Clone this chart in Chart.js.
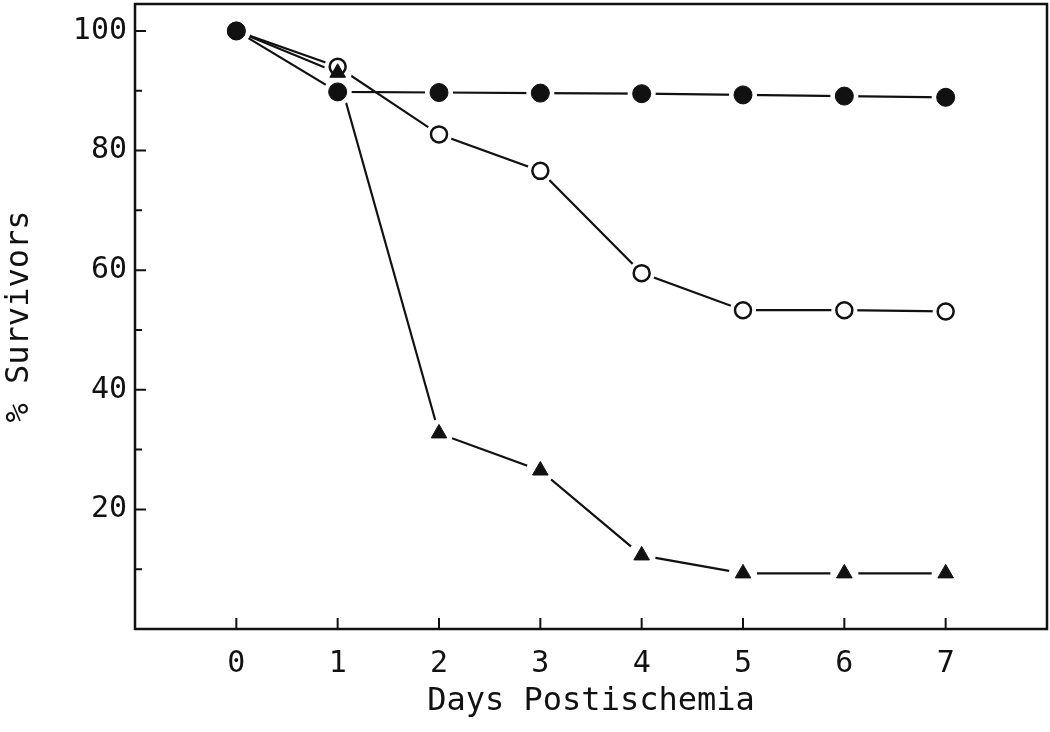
<!DOCTYPE html>
<html>
<head>
<meta charset="utf-8">
<script src="https://cdn.jsdelivr.net/npm/chart.js@4.4.1/dist/chart.umd.min.js"></script>
<style>
	html, body { margin: 0; padding: 0; background: #fff; }
	#wrap { width: 1050px; height: 732px; }
</style>
</head>
<body>
<div id="wrap"><canvas id="chartSurvival" width="1050" height="732"></canvas></div>
<script>
'use strict'

// values
const days = [0, 1, 2, 3, 4, 5, 6, 7];
const filledCircle = [100, 89.8, 89.7, 89.6, 89.5, 89.3, 89.1, 88.9];
const openCircle = [100, 94.0, 82.7, 76.6, 59.5, 53.3, 53.3, 53.1];
const filledTriangle = [100, 93.0, 32.7, 26.5, 12.3, 9.3, 9.3, 9.3];

const xTicks = [0, 1, 2, 3, 4, 5, 6, 7];
const yTicks = [20, 40, 60, 80, 100];
const yMinorTicks = [10, 30, 50, 70, 90];

const ink = '#111';
const fontFamily = '"DejaVu Sans Mono", monospace';

const toPoints = (vals) => days.map((d, i) => ({ x: d, y: vals[i] }));

// no extra room for label overhang, the box is fixed
const noOverhang = (scale) => {
	scale.paddingTop = 0;
	scale.paddingBottom = 0;
	scale.paddingLeft = 0;
	scale.paddingRight = 0;
};

// inward ticks, frame, and white gaps round the markers
const plotDecor = {
	id: 'plotDecor',
	afterDatasetsDraw(chart) {
		const { ctx, chartArea: { top, bottom, left, right } } = chart;
		const xs = chart.scales.x;
		const ys = chart.scales.y;
		ctx.save();

		// halo first, then redraw markers on top
		const drawOrder = [1, 2, 0];
		drawOrder.forEach((di) => {
			chart.getDatasetMeta(di).data.forEach((pt) => {
				ctx.beginPath();
				ctx.fillStyle = '#fff';
				ctx.arc(pt.x, pt.y, pt.options.radius + 5, 0, Math.PI * 2);
				ctx.fill();
			});
		});
		drawOrder.forEach((di) => {
			chart.getDatasetMeta(di).data.forEach((pt) => pt.draw(ctx, chart.chartArea));
		});

		ctx.strokeStyle = ink;
		ctx.lineWidth = 2;
		ctx.beginPath();
		xTicks.forEach((v) => {
			const px = xs.getPixelForValue(v);
			ctx.moveTo(px, bottom);
			ctx.lineTo(px, bottom - 11);
		});
		yTicks.forEach((v) => {
			const py = ys.getPixelForValue(v);
			ctx.moveTo(left, py);
			ctx.lineTo(left + 11, py);
		});
		yMinorTicks.forEach((v) => {
			const py = ys.getPixelForValue(v);
			ctx.moveTo(left, py);
			ctx.lineTo(left + 7, py);
		});
		ctx.stroke();

		ctx.lineWidth = 2.5;
		ctx.strokeRect(left, top, right - left, bottom - top);
		ctx.restore();
	},
};

new Chart(document.getElementById('chartSurvival'), {
	type: 'line',
	data: {
		datasets: [
			{
				label: 'filled circle',
				data: toPoints(filledCircle),
				borderColor: ink,
				borderWidth: 2.2,
				pointStyle: 'circle',
				pointRadius: 9,
				pointBackgroundColor: ink,
				pointBorderColor: ink,
				pointBorderWidth: 1,
			},
			{
				label: 'open circle',
				data: toPoints(openCircle),
				borderColor: ink,
				borderWidth: 2.2,
				pointStyle: 'circle',
				pointRadius: 8,
				pointBackgroundColor: '#fff',
				pointBorderColor: ink,
				pointBorderWidth: 2.5,
			},
			{
				label: 'filled triangle',
				data: toPoints(filledTriangle),
				borderColor: ink,
				borderWidth: 2.2,
				pointStyle: 'triangle',
				pointRadius: 9,
				pointBackgroundColor: ink,
				pointBorderColor: ink,
				pointBorderWidth: 1,
			},
		],
	},
	options: {
		responsive: false,
		animation: false,
		layout: {
			autoPadding: false,
			padding: { left: 0, right: 3, top: 4, bottom: 0 },
		},
		plugins: {
			legend: { display: false },
			tooltip: { enabled: false },
		},
		scales: {
			x: {
				type: 'linear',
				min: -1,
				max: 8,
				afterBuildTicks: (scale) => { scale.ticks = xTicks.map((v) => ({ value: v })); },
				afterFit: (scale) => { scale.height = 103; noOverhang(scale); },
				grid: { display: false, drawTicks: false },
				border: { display: false },
				ticks: {
					color: ink,
					padding: 17,
					maxRotation: 0,
					font: { family: fontFamily, size: 30 },
				},
				title: {
					display: true,
					text: 'Days Postischemia',
					color: ink,
					padding: { top: 0, bottom: 11 },
					font: { family: fontFamily, size: 32 },
				},
			},
			y: {
				type: 'linear',
				min: 0,
				max: 104.5,
				afterBuildTicks: (scale) => { scale.ticks = yTicks.map((v) => ({ value: v })); },
				afterFit: (scale) => { scale.width = 135; noOverhang(scale); },
				grid: { display: false, drawTicks: false },
				border: { display: false },
				ticks: {
					color: ink,
					padding: 8,
					font: { family: fontFamily, size: 30 },
				},
				title: {
					display: true,
					text: '% Survivors',
					color: ink,
					padding: { top: 0, bottom: 0 },
					font: { family: fontFamily, size: 32 },
				},
			},
		},
	},
	plugins: [plotDecor],
});
</script>
</body>
</html>
